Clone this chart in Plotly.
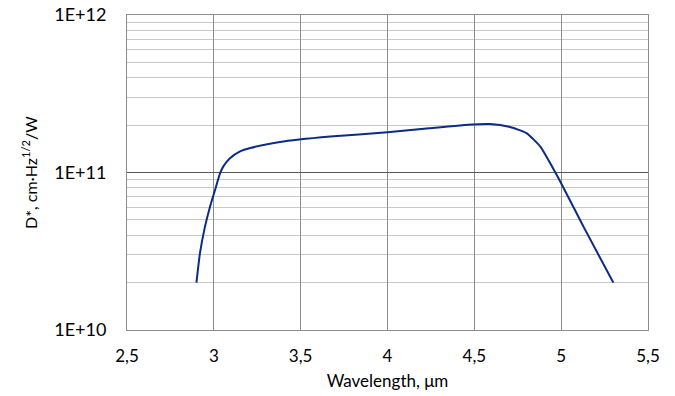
import plotly.graph_objects as go

wavelength = [2.90, 2.92, 2.949, 2.978, 3.007, 3.036, 3.054, 3.093, 3.151, 3.21, 3.38, 3.67, 4.0, 4.24, 4.49, 4.59, 4.70, 4.80, 4.88, 4.98, 5.13, 5.30]
detectivity = [2.0e10, 3.07e10, 4.53e10, 6.07e10, 7.75e10, 9.9e10, 1.09e11, 1.23e11, 1.36e11, 1.43e11, 1.56e11, 1.69e11, 1.80e11, 1.91e11, 2.02e11, 2.03e11, 1.95e11, 1.78e11, 1.46e11, 9.4e10, 4.5e10, 2.0e10]

x_tickvals = [2.5, 3, 3.5, 4, 4.5, 5, 5.5]
x_ticktext = ["2,5", "3", "3,5", "4", "4,5", "5", "5,5"]
y_tickvals = [1e10, 1e11, 1e12]
y_ticktext = ["1E+10", "1E+11", "1E+12"]
y_minor = [m * 10 ** e for e in (10, 11) for m in range(2, 10)]

font = "Lato, Open Sans, sans-serif"

fig = go.Figure()
fig.add_trace(go.Scatter(
    x=wavelength, y=detectivity, mode="lines",
    line=dict(color="#0b2c86", width=2, shape="spline", smoothing=0.5),
    showlegend=False, hoverinfo="skip"))

fig.update_layout(
    width=675, height=396,
    margin=dict(l=127, r=27, t=15, b=66),
    paper_bgcolor="white", plot_bgcolor="white",
    font=dict(family=font, size=17, color="black"),
    xaxis=dict(
        range=[2.5, 5.5], tickvals=x_tickvals, ticktext=x_ticktext,
        showgrid=True, gridcolor="#8c8c8c", gridwidth=1,
        showline=True, linecolor="#8c8c8c", linewidth=1, mirror=True,
        zeroline=False, ticks="outside", ticklen=11, tickcolor="rgba(0,0,0,0)",
        tickfont=dict(size=17), automargin=False, ticklabeloverflow="allow",
        title=dict(text="Wavelength, μm", font=dict(size=17), standoff=9),
    ),
    yaxis=dict(
        type="log", range=[10, 12], tickvals=y_tickvals, ticktext=y_ticktext,
        showgrid=True, gridcolor="#595959", gridwidth=1,
        showline=True, linecolor="#8c8c8c", linewidth=1, mirror=True,
        zeroline=False, ticks="outside", ticklen=16, tickcolor="rgba(0,0,0,0)",
        tickfont=dict(size=18), automargin=False, ticklabeloverflow="allow",
        minor=dict(tickvals=y_minor, showgrid=True, gridcolor="#c8c8c8", gridwidth=1, ticks=""),
        title=dict(text="D*, cm·Hz<sup>1/2</sup>/W", font=dict(size=16), standoff=12),
    ),
)

fig.write_html("out.html", config={"displayModeBar": False},
               post_script="document.body.style.margin='0px';")
